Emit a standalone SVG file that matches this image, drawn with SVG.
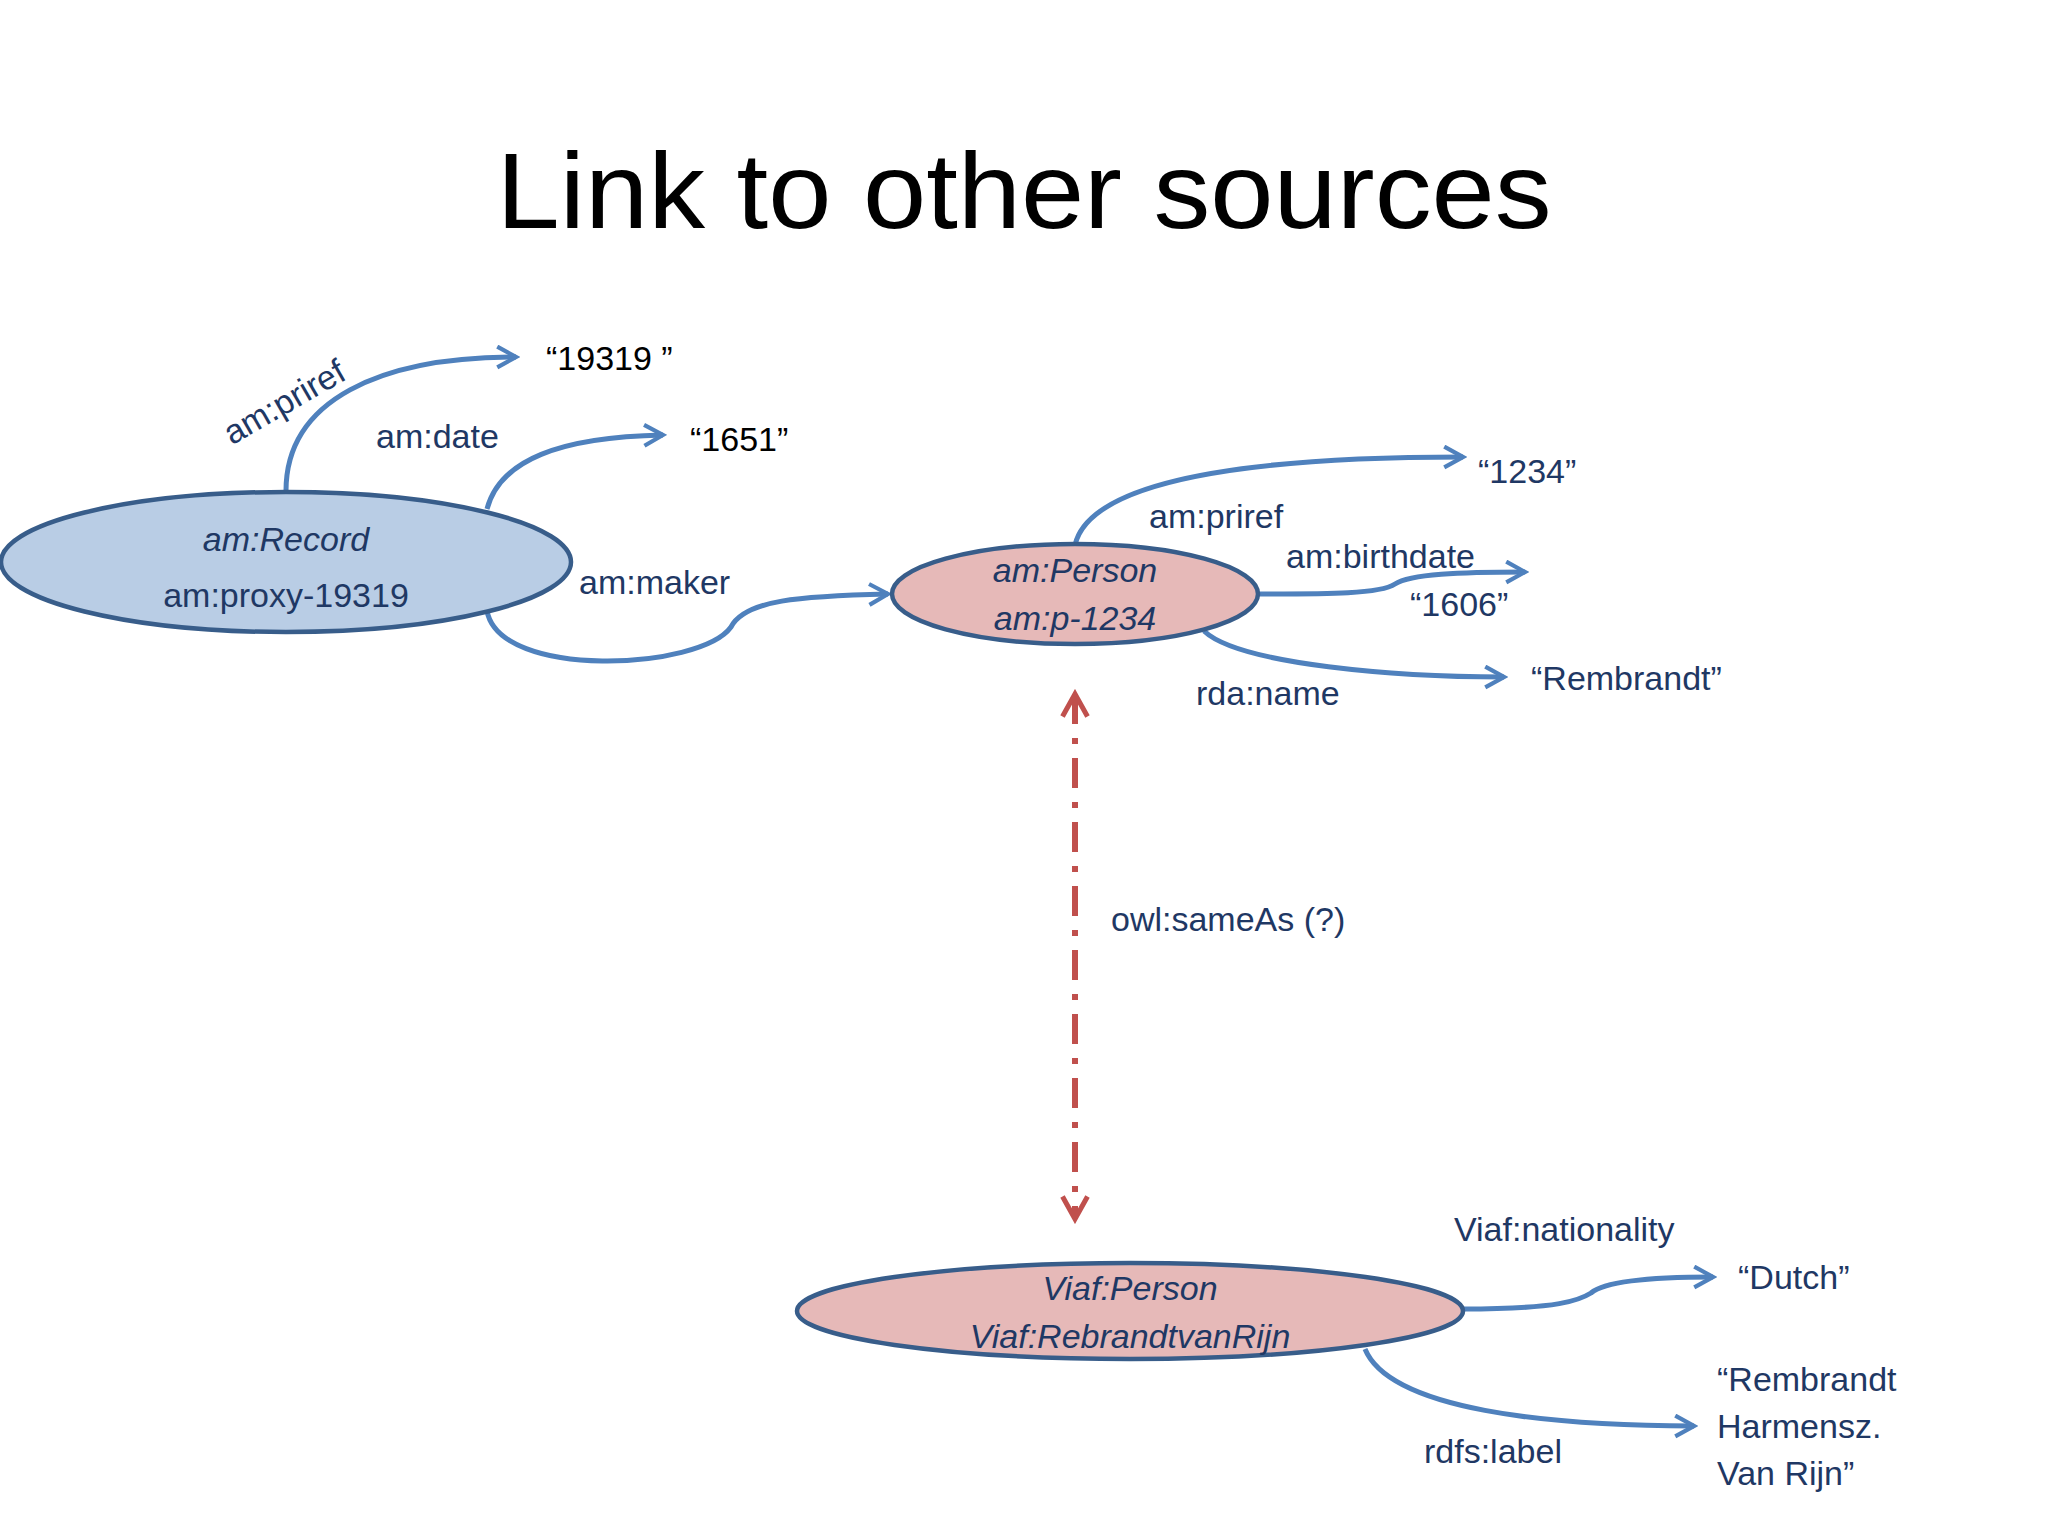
<svg xmlns="http://www.w3.org/2000/svg" width="2048" height="1536" viewBox="0 0 2048 1536">
<style>
.t{font-family:"Liberation Sans",Arial,sans-serif;fill:#1f3864;font-size:34px}
.it{font-style:italic}
.blk{fill:#000}
.c{fill:none;stroke:#4f81bd;stroke-width:5;marker-end:url(#ab)}
.n{stroke:#385d8a;stroke-width:4.5}
</style>
<defs>
<marker id="ab" viewBox="0 0 12 12" refX="10" refY="6" markerWidth="5" markerHeight="5" orient="auto" markerUnits="strokeWidth"><path d="M1,1 L10,6 L1,11" fill="none" stroke="#4f81bd" stroke-width="2"/></marker>
<marker id="ar" viewBox="0 0 12 12" refX="10" refY="6" markerWidth="5" markerHeight="5" orient="auto-start-reverse" markerUnits="strokeWidth"><path d="M1,1 L10,6 L1,11" fill="none" stroke="#c0504d" stroke-width="2"/></marker>
</defs>
<rect width="2048" height="1536" fill="#fff"/>
<text x="1024" y="228" text-anchor="middle" font-family="Liberation Sans,Arial,sans-serif" font-size="108" textLength="1055" lengthAdjust="spacingAndGlyphs" fill="#000">Link to other sources</text>
<g id="connectors">
<path class="c" d="M286,491 C286,400 380,357 516,357"/>
<path class="c" d="M487,509 C500,460 560,437 663,435"/>
<path class="c" d="M487,611 C500,680 700,670 731,627 C745,600 800,596 888,594"/>
<path class="c" d="M1075,545 C1090,480 1250,457 1463,457"/>
<path class="c" d="M1258,594 C1330,594 1380,594 1395,584 C1410,574 1460,572 1525,572"/>
<path class="c" d="M1204,631 C1240,665 1400,677 1504,677"/>
<path class="c" d="M1463,1309 C1560,1309 1580,1300 1591,1293 C1605,1281 1650,1277 1713,1277"/>
<path class="c" d="M1365,1349 C1390,1410 1550,1426 1694,1426"/>
<path d="M1075,694 L1075,1219" fill="none" stroke="#c0504d" stroke-width="6" stroke-dasharray="30,14,6,14" marker-start="url(#ar)" marker-end="url(#ar)"/>
</g>
<g id="record">
<ellipse class="n" cx="286" cy="562" rx="285" ry="70" fill="#b9cde5"/>
<text class="t it" x="286" y="551" text-anchor="middle" font-size="44">am:Record</text>
<text class="t" x="286" y="607" text-anchor="middle" font-size="38">am:proxy-19319</text>
</g>
<g id="person">
<ellipse class="n" cx="1075" cy="594" rx="183" ry="50" fill="#e6b9b8"/>
<text class="t it" x="1075" y="582" text-anchor="middle">am:Person</text>
<text class="t it" x="1075" y="630" text-anchor="middle">am:p-1234</text>
</g>
<g id="viaf">
<ellipse class="n" cx="1130" cy="1311" rx="333" ry="48" fill="#e6b9b8"/>
<text class="t it" x="1130" y="1300" text-anchor="middle">Viaf:Person</text>
<text class="t it" x="1130" y="1348" text-anchor="middle">Viaf:RebrandtvanRijn</text>
</g>
<g id="labels">
<text class="t" transform="translate(290,412) rotate(-30)" text-anchor="middle">am:priref</text>
<text class="t blk" x="546" y="370" font-size="40">“19319 ”</text>
<text class="t" x="376" y="448" font-size="38">am:date</text>
<text class="t blk" x="690" y="451" font-size="40">“1651”</text>
<text class="t" x="579" y="594" font-size="38">am:maker</text>
<text class="t" x="1149" y="528">am:priref</text>
<text class="t" x="1478" y="483">“1234”</text>
<text class="t" x="1286" y="568">am:birthdate</text>
<text class="t" x="1410" y="616">“1606”</text>
<text class="t" x="1196" y="705">rda:name</text>
<text class="t" x="1531" y="690">“Rembrandt”</text>
<text class="t" x="1111" y="931">owl:sameAs (?)</text>
<text class="t" x="1454" y="1241">Viaf:nationality</text>
<text class="t" x="1738" y="1289">“Dutch”</text>
<text class="t" x="1424" y="1463">rdfs:label</text>
<text class="t" x="1717" y="1391">“Rembrandt</text>
<text class="t" x="1717" y="1438">Harmensz.</text>
<text class="t" x="1717" y="1485">Van Rijn”</text>
</g>
</svg>
